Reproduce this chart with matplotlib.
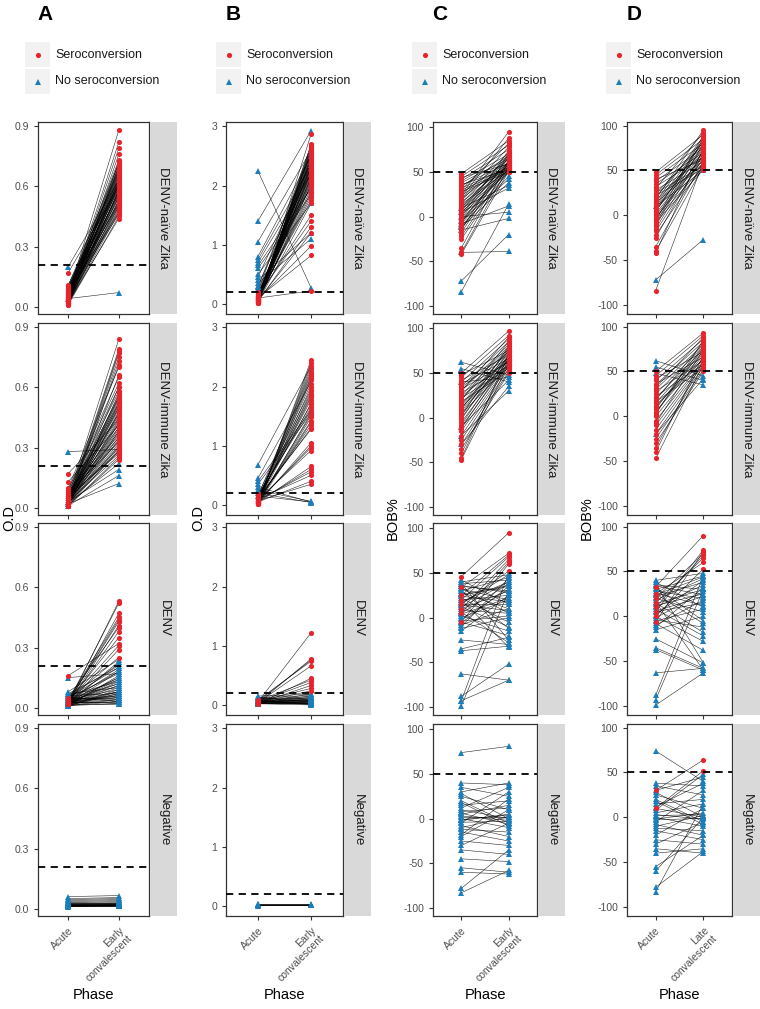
import matplotlib
matplotlib.use("Agg")
import matplotlib.pyplot as plt
import numpy as np

plt.rcParams['font.family'] = ['Liberation Sans', 'DejaVu Sans']

# ---- data: (acute, convalescent) pairs, split by seroconversion status ----
A_NAIVE_SERO = [(0.01,0.45),(0.015,0.47),(0.02,0.5),(0.02,0.52),(0.025,0.55),(0.03,0.48),(0.03,0.6),(0.035,0.58),
                (0.04,0.62),(0.04,0.65),(0.045,0.53),(0.05,0.57),(0.05,0.7),(0.055,0.68),(0.06,0.63),(0.06,0.72),
                (0.065,0.46),(0.07,0.59),(0.07,0.66),(0.075,0.61),(0.08,0.54),(0.08,0.69),(0.085,0.73),(0.09,0.64),
                (0.09,0.56),(0.095,0.51),(0.1,0.67),(0.1,0.6),(0.105,0.71),(0.11,0.62),(0.03,0.76),(0.04,0.79),
                (0.05,0.82),(0.06,0.88),(0.02,0.49),(0.03,0.58),(0.04,0.63),(0.05,0.55),(0.07,0.7),(0.17,0.6),
                (0.02,0.44),(0.03,0.51),(0.04,0.57),(0.05,0.61),(0.06,0.66),(0.07,0.52),(0.08,0.59),(0.09,0.68),
                (0.025,0.64),(0.035,0.56),(0.045,0.69),(0.055,0.5),(0.065,0.62),(0.075,0.47),(0.015,0.72),
                (0.01,0.58),(0.02,0.61),(0.03,0.65),(0.04,0.53),(0.05,0.67)]
A_NAIVE_NO = [(0.2,0.63),(0.04,0.07)]

A_IMMUNE_SERO = [(0.01,0.25),(0.02,0.28),(0.02,0.3),(0.03,0.32),(0.03,0.35),(0.04,0.38),(0.04,0.4),(0.05,0.42),
                 (0.05,0.45),(0.06,0.47),(0.06,0.5),(0.07,0.52),(0.07,0.55),(0.08,0.58),(0.08,0.6),(0.09,0.62),
                 (0.09,0.65),(0.1,0.7),(0.01,0.73),(0.02,0.75),(0.03,0.78),(0.04,0.79),(0.05,0.84),(0.06,0.27),
                 (0.07,0.33),(0.08,0.36),(0.13,0.41),(0.17,0.44),(0.02,0.48),(0.03,0.5),(0.04,0.53),(0.05,0.56),
                 (0.01,0.29),(0.02,0.31),(0.03,0.26),(0.06,0.46),(0.04,0.39),(0.05,0.54),(0.02,0.66),(0.03,0.6),
                 (0.01,0.24),(0.02,0.34),(0.03,0.37),(0.04,0.43),(0.05,0.49),(0.06,0.51),(0.01,0.57),(0.02,0.42),
                 (0.03,0.47),(0.04,0.3),(0.05,0.28),(0.06,0.35),(0.07,0.4),(0.02,0.38),(0.03,0.44),(0.01,0.52),
                 (0.04,0.71),(0.02,0.77),(0.03,0.55),(0.05,0.33)]
A_IMMUNE_NO = [(0.28,0.29),(0.02,0.22),(0.03,0.19),(0.01,0.16),(0.02,0.12)]

A_DENV_SERO = [(0.02,0.53),(0.03,0.52),(0.02,0.47),(0.04,0.45),(0.03,0.43),(0.02,0.41),(0.05,0.4),(0.03,0.35),
               (0.16,0.32),(0.02,0.29),(0.04,0.25),(0.03,0.44),(0.02,0.38),(0.03,0.31)]
A_DENV_NO = [(0.01,0.02),(0.02,0.03),(0.02,0.05),(0.03,0.06),(0.01,0.08),(0.02,0.1),(0.03,0.12),(0.04,0.14),
             (0.02,0.15),(0.05,0.17),(0.03,0.19),(0.06,0.21),(0.02,0.23),(0.08,0.24),(0.07,0.2),(0.04,0.09),
             (0.05,0.04),(0.06,0.07),(0.03,0.11),(0.02,0.13),(0.01,0.16),(0.04,0.18),(0.15,0.17),(0.03,0.22),
             (0.02,0.06),(0.05,0.03),(0.01,0.04),(0.07,0.1),(0.02,0.08),(0.03,0.02),(0.04,0.05),(0.06,0.13),
             (0.02,0.11),(0.03,0.03),(0.01,0.07),(0.02,0.04),(0.03,0.05),(0.02,0.07),(0.01,0.09),(0.04,0.12),
             (0.03,0.15),(0.02,0.18),(0.05,0.2),(0.02,0.02),(0.03,0.08),(0.01,0.03),(0.04,0.06),(0.02,0.14)]

A_NEG_SERO = []
A_NEG_NO = [(0.01,0.012),(0.012,0.013),(0.015,0.015),(0.015,0.018),(0.018,0.02),(0.02,0.02),(0.02,0.022),
            (0.022,0.025),(0.025,0.025),(0.03,0.03),(0.03,0.035),(0.035,0.04),(0.04,0.045),(0.045,0.05),
            (0.05,0.055),(0.06,0.065),(0.012,0.015),(0.015,0.014),(0.018,0.016),(0.02,0.018),(0.013,0.012),
            (0.016,0.02),(0.025,0.03),(0.028,0.026),(0.014,0.016),(0.017,0.017),(0.019,0.019),(0.011,0.014)]

B_NAIVE_SERO = [(0.02,2.87),(0.03,2.7),(0.05,2.65),(0.06,2.6),(0.08,2.55),(0.1,2.5),(0.12,2.45),(0.14,2.4),
                (0.16,2.35),(0.18,2.3),(0.05,2.25),(0.07,2.2),(0.09,2.15),(0.11,2.1),(0.13,2.05),(0.15,2.0),
                (0.04,1.95),(0.06,1.9),(0.08,1.85),(0.1,1.8),(0.12,1.75),(0.03,1.7),(0.05,2.62),(0.07,2.52),
                (0.09,2.42),(0.11,2.32),(0.13,2.22),(0.15,2.12),(0.02,2.02),(0.04,2.48),(0.06,2.38),(0.08,2.28),
                (0.1,2.58),(0.12,1.5),(0.14,1.4),(0.04,1.3),(0.06,1.2),(0.08,0.98),(0.1,0.82),(0.1,0.22),
                (0.2,2.68),(0.17,2.18),(0.03,2.44),(0.05,2.36),(0.07,2.27),(0.09,2.56),(0.11,2.47),(0.13,2.33),
                (0.02,2.24),(0.04,2.14),(0.06,2.08),(0.08,2.64)]
B_NAIVE_NO = [(2.25,0.27),(1.4,2.93),(1.05,2.6),(0.8,2.5),(0.75,2.35),(0.7,2.2),(0.65,1.95),(0.6,1.85),
              (0.5,1.7),(0.45,2.4),(0.4,1.2),(0.35,1.1),(0.3,2.3),(0.28,2.55),(0.25,2.0)]

B_IMMUNE_SERO = [(0.02,2.45),(0.04,2.4),(0.06,2.3),(0.08,2.22),(0.1,2.15),(0.12,2.05),(0.03,2.0),(0.05,1.92),
                 (0.07,1.85),(0.09,1.78),(0.11,1.7),(0.13,1.65),(0.02,1.55),(0.04,1.48),(0.06,1.42),(0.08,1.35),
                 (0.1,1.3),(0.12,1.28),(0.03,1.05),(0.05,1.0),(0.07,0.97),(0.09,0.92),(0.04,0.65),(0.06,0.6),
                 (0.08,0.56),(0.1,0.5),(0.05,0.4),(0.07,0.35),(0.15,2.25),(0.18,1.95),(0.14,1.88),(0.16,1.6),
                 (0.03,2.12),(0.05,1.72),(0.04,2.35),(0.06,2.18),(0.08,1.82),(0.02,1.4),(0.05,1.52)]
B_IMMUNE_NO = [(0.68,2.35),(0.45,2.08),(0.4,1.6),(0.35,1.55),(0.3,0.05),(0.25,0.06),(0.2,0.04),(0.15,0.05)]

B_DENV_SERO = [(0.05,1.22),(0.03,0.78),(0.06,0.76),(0.08,0.74),(0.04,0.66),(0.02,0.45),(0.07,0.42),(0.05,0.38),
               (0.03,0.33),(0.06,0.28),(0.04,0.24)]
B_DENV_NO = [(0.02,0.0),(0.03,0.02),(0.05,0.04),(0.06,0.06),(0.04,0.08),(0.07,0.1),(0.08,0.12),(0.1,0.14),
             (0.12,0.16),(0.15,0.18),(0.03,0.19),(0.05,0.03),(0.02,0.05),(0.04,0.01),(0.06,0.09),(0.09,0.07),
             (0.11,0.11),(0.13,0.05),(0.03,0.13),(0.05,0.15),(0.07,0.02),(0.02,0.07),(0.04,0.04),(0.08,0.03),
             (0.03,0.06),(0.05,0.08),(0.02,0.03),(0.04,0.1),(0.06,0.01)]

B_NEG_SERO = []
B_NEG_NO = [(0.01,0.01),(0.02,0.02),(0.015,0.015),(0.02,0.01),(0.01,0.02),(0.03,0.03),(0.005,0.01),(0.025,0.02)]

C_NAIVE_SERO = [(48,85),(45,80),(42,75),(40,70),(38,65),(35,60),(32,55),(30,52),(28,50),(25,95),(22,88),(20,78),
                (18,72),(15,68),(12,62),(10,58),(8,55),(5,52),(2,50),(0,74),(-2,66),(-5,60),(-8,54),(-12,50),
                (-15,70),(-18,63),(-22,57),(-25,52),(-35,62),(-40,56),(-42,51),(44,59),(36,53),(26,64),(16,58),
                (6,70),(-3,53),(30,82),(20,60),(10,66),(14,52),(24,56),(4,61),(-6,57),(34,68)]
C_NAIVE_NO = [(-84,14),(-72,-20),(-10,45),(-5,42),(-12,38),(10,35),(5,32),(-8,12),(-40,-39),(0,5),(-15,-2)]

C_IMMUNE_SERO = [(50,97),(45,92),(40,88),(35,85),(30,82),(25,80),(20,78),(15,75),(10,72),(5,70),(0,68),(-5,65),
                 (-10,62),(-15,60),(-20,58),(-25,55),(-30,52),(-35,50),(-40,65),(-45,70),(-47,60),(48,75),(42,70),
                 (38,66),(32,62),(28,58),(22,55),(18,52),(12,60),(8,65),(2,80),(-2,75),(-8,70),(30,90),(20,85),(10,77),
                 (14,68),(24,64),(34,73),(4,58),(-12,66)]
C_IMMUNE_NO = [(62,48),(55,40),(-30,35),(-20,30),(40,45),(-10,42)]

C_DENV_SERO = [(46,95),(34,72),(25,70),(20,68),(10,65),(5,62),(-5,60),(15,52)]
C_DENV_NO = [(40,48),(38,42),(35,30),(32,20),(30,45),(28,10),(25,35),(22,-5),(20,25),(18,40),(15,15),(12,-10),
             (10,30),(8,5),(5,38),(2,-15),(0,20),(-2,32),(-5,-20),(-8,10),(-10,44),(-12,0),(-15,25),(-25,-30),
             (-35,-22),(-37,-32),(-63,-70),(-88,-52),(-93,-70),(-99,30),(-93,50),(38,-25),(30,-12),(20,-33),
             (14,8),(6,-28),(42,15),(26,36),(16,48),(-4,2),(36,28),(24,18),(12,40),(4,22),(-6,35),(33,5)]

C_NEG_SERO = []
C_NEG_NO = [(74,81),(40,38),(35,25),(30,40),(25,10),(20,-5),(15,20),(10,0),(5,15),(0,-10),(-2,5),(-5,30),(-8,-20),
            (-10,2),(-15,-25),(-20,10),(-25,-30),(-30,-5),(-35,-40),(-45,-48),(-55,-60),(-60,-62),(-78,-35),
            (-83,-58),(12,35),(-12,-15),(3,-2),(8,12),(18,-8),(28,0),(-18,22),(2,2),(-4,-3),(6,-6),(-1,4)]

D_NAIVE_SERO = [(-84,60),(48,90),(45,85),(42,80),(38,75),(35,70),(32,65),(28,60),(25,55),(22,52),(18,95),(15,88),
                (12,82),(10,78),(8,74),(5,70),(2,66),(0,62),(-2,58),(-5,54),(-8,51),(-10,86),(-12,80),(-15,72),
                (-18,64),(-22,56),(-25,68),(-35,60),(-40,54),(-42,75),(30,92),(20,84),(6,76),(-4,68),(40,62),(14,58),
                (24,79),(4,83),(-6,89),(16,70)]
D_NAIVE_NO = [(-72,-27),(10,50)]

D_IMMUNE_SERO = [(50,93),(45,90),(40,86),(35,83),(30,80),(25,78),(20,75),(15,72),(10,70),(5,68),(0,65),(-5,62),
                 (-10,60),(-15,58),(-20,55),(-25,52),(-30,50),(-35,62),(-40,68),(-47,58),(42,72),(36,66),(28,62),
                 (22,58),(16,54),(8,78),(2,85),(-8,74),(32,88),(12,64),(18,82),(4,76)]
D_IMMUNE_NO = [(62,45),(55,40),(48,35),(-20,42)]

D_DENV_SERO = [(33,90),(5,74),(-6,72),(20,70),(10,68),(15,65),(25,60),(0,53)]
D_DENV_NO = [(40,48),(38,10),(35,30),(32,-5),(30,45),(28,20),(25,-8),(22,38),(20,5),(18,42),(15,-18),(12,25),
             (10,35),(8,-22),(5,15),(2,40),(0,-28),(-2,28),(-5,8),(-8,-38),(-10,18),(-12,32),(-15,0),(-25,-52),
             (-35,-58),(-37,-60),(-63,-58),(-88,45),(-93,30),(-99,-63),(36,-52),(26,12),(16,-60),(6,22),(-4,-12),
             (34,24),(14,30),(24,44)]

D_NEG_SERO = [(30,64),(10,52)]
D_NEG_NO = [(74,40),(38,35),(35,25),(30,45),(25,10),(20,-5),(15,20),(10,0),(5,15),(0,-10),(-2,5),(-5,30),(-8,-20),
            (-10,2),(-15,-25),(-20,10),(-25,-30),(-30,-5),(-35,-40),(-40,-35),(-55,-20),(-60,0),(-78,-38),(-83,15),
            (12,38),(-12,-15),(3,-2),(8,48),(18,-8),(28,0),(2,3),(-3,-1)]

ROWS = ["DENV-naïve Zika", "DENV-immune Zika", "DENV", "Negative"]
LETTERS = ["A", "B", "C", "D"]
YLABELS = ["O.D", "O.D", "BOB%", "BOB%"]
THRESHOLDS = [0.21, 0.2, 50, 50]
YTICKS = [[0.0, 0.3, 0.6, 0.9], [0, 1, 2, 3], [-100, -50, 0, 50, 100], [-100, -50, 0, 50, 100]]
YTICKLABELS = [["0.0", "0.3", "0.6", "0.9"], ["0", "1", "2", "3"],
               ["-100", "-50", "0", "50", "100"], ["-100", "-50", "0", "50", "100"]]
YLIMS = [(-0.037, 0.922), (-0.17, 3.075), (-109, 106), (-110, 104)]
XLABELS = [["Acute", "Early\nconvalescent"], ["Acute", "Early\nconvalescent"],
           ["Acute", "Early\nconvalescent"], ["Acute", "Late\nconvalescent"]]

PANELS = [
    [(A_NAIVE_SERO, A_NAIVE_NO), (A_IMMUNE_SERO, A_IMMUNE_NO), (A_DENV_SERO, A_DENV_NO), (A_NEG_SERO, A_NEG_NO)],
    [(B_NAIVE_SERO, B_NAIVE_NO), (B_IMMUNE_SERO, B_IMMUNE_NO), (B_DENV_SERO, B_DENV_NO), (B_NEG_SERO, B_NEG_NO)],
    [(C_NAIVE_SERO, C_NAIVE_NO), (C_IMMUNE_SERO, C_IMMUNE_NO), (C_DENV_SERO, C_DENV_NO), (C_NEG_SERO, C_NEG_NO)],
    [(D_NAIVE_SERO, D_NAIVE_NO), (D_IMMUNE_SERO, D_IMMUNE_NO), (D_DENV_SERO, D_DENV_NO), (D_NEG_SERO, D_NEG_NO)],
]

RED = "#e8232b"
BLUE = "#1c7dbb"

W, H = 760, 1009
fig = plt.figure(figsize=(W / 100, H / 100), dpi=100)


def box(l, t, w, h):
    return [l / W, 1 - (t + h) / H, w / W, h / H]


col_left = [38, 226, 433, 627]
col_right = [149, 343, 537, 732]
row_top = [122, 323, 523, 724]
row_h = 192
strip_w = 27
leg_left = [25, 216, 412, 606]
ylab_x = [9, 198, 393, 587]
styles = [("no", BLUE, "^", 4.0), ("sero", RED, "o", 3.7)]

for c in range(4):
    pw = col_right[c] - col_left[c]
    for r in range(4):
        ax = fig.add_axes(box(col_left[c], row_top[r], pw, row_h))
        sero, no = PANELS[c][r]
        groups = {"sero": sero, "no": no}
        for key, col, mk, ms in styles:
            for a, b in groups[key]:
                ax.plot([1, 2], [a, b], color="black", lw=0.4, alpha=0.85, zorder=2)
        for key, col, mk, ms in styles:
            pairs = groups[key]
            if pairs:
                arr = np.array(pairs)
                ax.plot(np.ones(len(arr)), arr[:, 0], ls="none", marker=mk, ms=ms, color=col, mew=0, zorder=3)
                ax.plot(np.full(len(arr), 2), arr[:, 1], ls="none", marker=mk, ms=ms, color=col, mew=0, zorder=3)
        ax.axhline(THRESHOLDS[c], color="black", lw=1.3, ls=(0, (4, 3)), zorder=4)
        ax.set_xlim(0.4, 2.6)
        ax.set_ylim(*YLIMS[c])
        ax.set_yticks(YTICKS[c])
        ax.set_yticklabels(YTICKLABELS[c])
        ax.set_xticks([1, 2])
        if r == 3:
            ax.set_xticklabels(XLABELS[c], rotation=45, ha="right", rotation_mode="anchor",
                               multialignment="right")
        else:
            ax.set_xticklabels([])
            ax.tick_params(axis="x", length=0)
        ax.tick_params(labelsize=7.5, labelcolor="#4d4d4d", color="#333333", length=3, width=0.8)
        for s in ax.spines.values():
            s.set_color("#333333")
            s.set_linewidth(0.9)
        # facet strip
        sx = fig.add_axes(box(col_right[c] + 1, row_top[r], strip_w, row_h))
        sx.set_facecolor("#d9d9d9")
        sx.set_xticks([])
        sx.set_yticks([])
        for s in sx.spines.values():
            s.set_visible(False)
        sx.text(0.5, 0.5, ROWS[r], rotation=270, ha="center", va="center", fontsize=9.5,
                color="#1a1a1a", transform=sx.transAxes)

    # panel letter
    fig.text((col_left[c] + 7) / W, 1 - 14 / H, LETTERS[c], fontsize=15, fontweight="bold",
             ha="center", va="center")
    # legend
    for i, (lab, col, mk, ms) in enumerate([("Seroconversion", RED, "o", 3.7),
                                             ("No seroconversion", BLUE, "^", 4.0)]):
        top = 42 + i * 27
        lx = fig.add_axes(box(leg_left[c], top, 25, 25))
        lx.set_facecolor("#f2f2f2")
        lx.set_xlim(0, 1)
        lx.set_ylim(0, 1)
        lx.plot([0.5], [0.5], marker=mk, ms=ms, color=col, mew=0)
        lx.set_xticks([])
        lx.set_yticks([])
        for s in lx.spines.values():
            s.set_visible(False)
        fig.text((leg_left[c] + 30) / W, 1 - (top + 12.5) / H, lab, fontsize=9, ha="left", va="center",
                 color="#1a1a1a")
    # axis labels
    fig.text(ylab_x[c] / W, 1 - 518 / H, YLABELS[c], rotation=90, fontsize=10.5,
             ha="center", va="center")
    fig.text((col_left[c] + col_right[c]) / 2 / W, 1 - 995 / H, "Phase", fontsize=10.5,
             ha="center", va="center")

fig.savefig("out.png", dpi=100)
